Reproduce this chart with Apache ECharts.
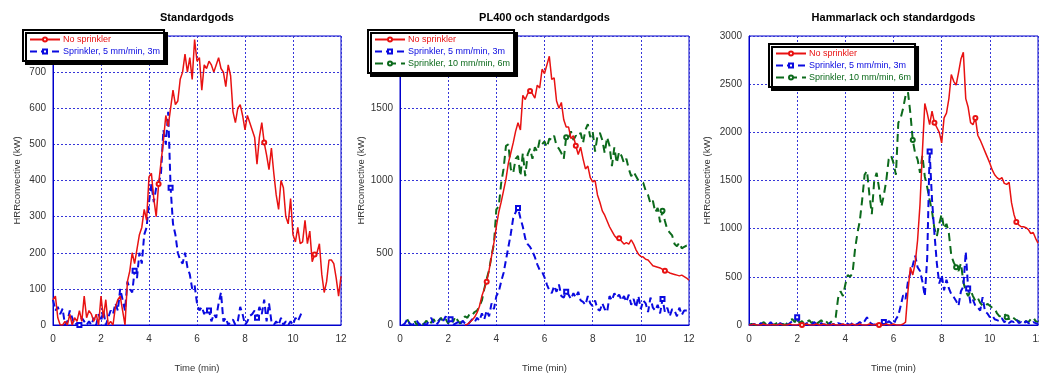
<!DOCTYPE html>
<html>
<head>
<meta charset="utf-8">
<script src="https://cdn.jsdelivr.net/npm/echarts@6/dist/echarts.min.js"></script>
<style>
  html, body { margin: 0; padding: 0; background: #fff; }
  #chart { width: 1039px; height: 373px; }
</style>
</head>
<body>
<div id="chart"></div>
<script>
// time axis (min), shared by every series
const time = [
  0, 0.1, 0.2, 0.3, 0.4, 0.5, 0.6, 0.7, 0.8, 0.9,
  1, 1.1, 1.2, 1.3, 1.4, 1.5, 1.6, 1.7, 1.8, 1.9,
  2, 2.1, 2.2, 2.3, 2.4, 2.5, 2.6, 2.7, 2.8, 2.9,
  3, 3.1, 3.2, 3.3, 3.4, 3.5, 3.6, 3.7, 3.8, 3.9,
  4, 4.1, 4.2, 4.3, 4.4, 4.5, 4.6, 4.7, 4.8, 4.9,
  5, 5.1, 5.2, 5.3, 5.4, 5.5, 5.6, 5.7, 5.8, 5.9,
  6, 6.1, 6.2, 6.3, 6.4, 6.5, 6.6, 6.7, 6.8, 6.9,
  7, 7.1, 7.2, 7.3, 7.4, 7.5, 7.6, 7.7, 7.8, 7.9,
  8, 8.1, 8.2, 8.3, 8.4, 8.5, 8.6, 8.7, 8.8, 8.9,
  9, 9.1, 9.2, 9.3, 9.4, 9.5, 9.6, 9.7, 9.8, 9.9,
  10, 10.1, 10.2, 10.3, 10.4, 10.5, 10.6, 10.7, 10.8, 10.9,
  11, 11.1, 11.2, 11.3, 11.4, 11.5, 11.6, 11.7, 11.8, 11.9,
  12
];

const titles = ['Standardgods', 'PL400 och standardgods', 'Hammarlack och standardgods'];
const seriesNames = ['No sprinkler', 'Sprinkler, 5 mm/min, 3m', 'Sprinkler, 10 mm/min, 6m'];
const xTicks = [0, 2, 4, 6, 8, 10, 12];
const yMax = [800, 2000, 3000];
const yStep = [100, 500, 500];

// --- Standardgods (kW) ---
const stdNone = [
  70, 80, 20, 0, 0, 10, 0, 30, 0, 20,
  10, 40, 10, 80, 20, 40, 30, 10, 30, 0,
  80, 20, 70, 0, 10, 0, 50, 70, 80, 40,
  0, 120, 150, 200, 170, 210, 250, 270, 320, 290,
  410, 420, 350, 300, 390, 450, 510, 580, 550, 600,
  650, 610, 620, 680, 700, 750, 700, 740, 680, 790,
  730, 740, 650, 720, 710, 730, 720, 700, 720, 740,
  710, 700, 660, 720, 690, 590, 560, 600, 610, 580,
  540, 580, 560, 540, 520, 445, 520, 560, 505, 470,
  430, 490, 420, 360, 320, 400, 380, 300, 280, 350,
  250, 230, 270, 225, 230, 290, 225, 260, 175, 195,
  200, 225, 140, 90, 120, 180, 180, 170, 130, 80,
  135
];
const stdS5 = [
  70, 40, 50, 30, 45, 0, 10, 40, 20, 0,
  5, 0, 20, 10, 0, 10, 0, 20, 0, 30,
  10, 40, 0, 20, 40, 30, 60, 40, 100, 70,
  40, 120, 100, 90, 150, 130, 200, 170, 250, 270,
  340, 390, 340, 380, 390, 420, 540, 500, 590, 380,
  280, 250, 200, 180, 170, 200, 160, 140, 100, 110,
  60, 40, 50, 30, 45, 40, 10, 30, 20, 60,
  90, 10, 20, 0, 10, 15, 0, 10, 50, 30,
  0, 10, 25, 30, 40, 20, 50, 30, 70, 10,
  60, 10, 0, 10, 0, 20, 0, 10, 0, 10,
  0, 20, 10, 25, 40, null, null, null, null, null,
  null, null, null, null, null, null, null, null, null, null,
  null
];

// --- PL400 och standardgods (kW) ---
const plNone = [
  null, null, null, null, null, null, null, null, null, null,
  null, null, null, null, null, null, null, null, null, null,
  null, null, null, null, null, null, null, 0, 5, 20,
  35, 55, 85, 130, 200, 250, 300, 380, 475, 570,
  680, 780, 850, 930, 1010, 1120, 1190, 1260, 1340, 1400,
  1350, 1590, 1560, 1600, 1620, 1600, 1570, 1660, 1640, 1770,
  1740, 1800, 1860, 1700, 1710, 1550, 1500, 1540, 1420, 1370,
  1370, 1290, 1310, 1240, 1180, 1230, 1150, 1080, 1100, 1020,
  990, 1000, 900, 850, 790, 760, 720, 680, 650, 620,
  600, 600, 580, 560, 570, 560, 590, 560, 520, 490,
  475, 470, 455, 450, 430, 410, 405, 400, 395, 385,
  375, 370, 360, 355, 350, 345, 340, 345, 335, 325,
  310
];
const plS5 = [
  null, 0, 10, 40, 10, 0, 10, 30, 0, 20,
  10, 0, 30, 50, 10, 0, 20, 50, 30, 60,
  20, 40, 0, 10, 20, 0, 30, 10, 0, 20,
  40, 20, 50, 30, 80, 40, 100, 60, 150, 110,
  200, 230, 300, 360, 450, 540, 630, 740, 780, 810,
  740, 680, 600, 560, 540, 510, 470, 420, 380, 370,
  330, 280, 240, 220, 270, 230, 280, 200, 190, 230,
  210, 180, 220, 190, 230, 170, 160, 140, 200, 150,
  130, 170, 110, 100, 150, 110, 90, 200, 170, 220,
  190, 210, 170, 200, 160, 210, 140, 180, 120, 200,
  110, 170, 150, 90, 190, 120, 100, 140, 80, 180,
  90, 120, 60, 110, 100, 60, 120, 70, 100, 100,
  100
];
const plS10 = [
  null, null, null, 40, 10, 0, 30, 0, 20, 0,
  10, 30, 0, 20, 40, 10, 30, 50, 20, 40,
  10, 50, 20, 60, 30, 10, 40, 60, 50, 80,
  70, 90, 100, 130, 170, 250, 320, 380, 480, 560,
  800, 820, 980, 1080, 1240, 1250, 1080, 1050, 1150, 1170,
  1030, 1190, 1030, 1180, 1220, 1150, 1230, 1200, 1280, 1250,
  1270, 1230, 1290, 1280, 1310, 1240, 1220, 1190, 1150, 1300,
  1290, 1340, 1280, 1310, 1300, 1330, 1260, 1350, 1390, 1300,
  1340, 1200, 1310, 1330, 1280, 1190, 1300, 1240, 1100, 1230,
  1120, 1200, 1170, 1120, 1150, 1080, 1030, 1060, 1030, 1000,
  990, 985, 930, 900, 840, 860, 780, 810, 710, 790,
  720, 660, 640, 620, 560, 545, 570, 530, 540, 550,
  535
];

// --- Hammarlack och standardgods (kW) ---
const hlNone = [
  0, 0, 10, 0, 0, 0, 10, 0, 0, 0,
  5, 0, 0, 10, 0, 0, 0, 10, 0, 0,
  0, 10, 0, 0, 10, 0, 0, 0, 10, 0,
  0, 10, 0, 0, 0, 10, 0, 0, 0, 10,
  0, 0, 0, 10, 0, 0, 10, 0, 0, 0,
  10, 0, 0, 10, 0, 0, 0, 10, 0, 0,
  10, 0, 0, 0, 10, 30, 350, 600, 520, 640,
  880, 1250, 1800, 2300, 2200, 2080, 2220, 2100, 2050, 2000,
  1890, 2150, 2200, 2350, 2600, 2530, 2490, 2620, 2760, 2830,
  2350, 2260, 2100, 2080, 2150, 1970, 1920, 1860, 1800, 1740,
  1680, 1610, 1560, 1530, 1510, 1530, 1470, 1460, 1480, 1270,
  1150, 1070, 1040, 1020, 1020, 1010, 990, 950, 960, 900,
  850
];
const hlS5 = [
  0, 0, 10, 0, 0, 20, 0, 10, 0, 30,
  0, 10, 0, 20, 0, 10, 0, 20, 40, 60,
  80, 30, 10, 0, 20, 10, 0, 30, 10, 0,
  20, 0, 10, 30, 0, 10, 0, 20, 10, 0,
  30, 10, 0, 20, 0, 10, 30, 10, 40, 80,
  30, 10, 0, 20, 10, 0, 30, 10, 40, 20,
  0, 60, 100, 200, 310, 270, 450, 540, 620, 720,
  600, 560, 450, 300, 700, 1800, 1300, 950, 640, 430,
  520, 360, 470, 380, 320, 290, 250, 200, 350, 400,
  760, 380, 220, 260, 200, 180, 150, 290, 140, 120,
  80, 100, 60, 50, 40, 70, 30, 50, 20, 40,
  30, 60, 20, 30, 10, 40, 20, 10, 30, 20,
  10
];
const hlS10 = [
  0, 10, 0, 0, 20, 0, 30, 10, 0, 20,
  0, 10, 30, 0, 10, 0, 20, 50, 60, 30,
  70, 20, 40, 10, 30, 50, 20, 40, 10, 30,
  50, 20, 40, 10, 30, 60, 80, 280, 350, 300,
  420, 520, 500, 540, 780, 950, 1080, 1300, 1560, 1600,
  1350, 1150, 1500, 1580, 1420, 1230, 1350, 1500, 1720, 1760,
  1680, 1560, 2100, 2150, 2250, 2380, 2420, 2200, 1920, 1780,
  1720, 1580, 1760, 1540, 1430, 1300, 1180, 1000, 920, 1050,
  1150, 1000, 1050, 950, 720, 650, 600, 560, 640, 450,
  350, 300, 360, 300, 250, 280, 230, 200, 190, 220,
  200, 180, 170, 120, 90, 100, 120, 80, 60, 90,
  70, 50, 40, 30, 20, 40, 30, 60, 80, 40,
  30
];

const panelData = [
  [stdNone, stdS5],
  [plNone, plS5, plS10],
  [hlNone, hlS5, hlS10]
];

// times (min) where the original plot shows a series marker
const markTimes = [
  [[4.4, 8.8, 10.9], [1.1, 3.4, 4.9, 6.5, 8.5]],
  [[3.6, 5.4, 7.3, 9.1, 11.0], [2.1, 4.9, 6.9, 10.9], [6.9, 10.9]],
  [[2.2, 5.4, 7.7, 9.4, 11.1], [2.0, 5.6, 7.5, 9.1], [6.8, 8.6, 10.7]]
];

const FONT = '"Liberation Sans", Arial, sans-serif';
const AXIS_BLUE = '#0000cc';
const GRID_BLUE = '#3535d8';
const colors = ['#e81212', '#0a0ae0', '#0c6a1c'];
const symbols = ['emptyCircle', 'emptyRect', 'emptyCircle'];
const dashes = ['solid', [7, 4], [8, 5]];
const widths = [1.5, 2, 2];

// layout of the three panels
const boxes = [
  {left: 53, top: 36, width: 288, height: 289, yGap: 31, legend: {left: 23, top: 30}},
  {left: 400, top: 36, width: 289, height: 289, yGap: 34, legend: {left: 368, top: 30}},
  {left: 749, top: 36, width: 289, height: 289, yGap: 37, legend: {left: 769, top: 44}}
];

const chart = echarts.init(document.getElementById('chart'));

const grid = [], xAxis = [], yAxis = [], series = [], legend = [], graphic = [];

boxes.forEach((b, p) => {
    grid.push({
        left: b.left, top: b.top, width: b.width, height: b.height,
        outerBoundsMode: 'none', containLabel: false,
        show: true, borderColor: AXIS_BLUE, borderWidth: 1, backgroundColor: '#fff'
    });
    xAxis.push({
        type: 'value', gridIndex: p, min: xTicks[0], max: xTicks[xTicks.length - 1], interval: 2,
        name: 'Time (min)', nameLocation: 'middle', nameGap: 38,
        nameTextStyle: {fontFamily: FONT, fontSize: 9.5, color: '#333'},
        axisLine: {lineStyle: {color: AXIS_BLUE, width: 1}},
        axisTick: {show: false},
        axisLabel: {fontFamily: FONT, fontSize: 10, color: '#333', margin: 9},
        splitLine: {show: true, lineStyle: {color: GRID_BLUE, type: [2, 2], width: 1}}
    });
    yAxis.push({
        type: 'value', gridIndex: p, min: 0, max: yMax[p], interval: yStep[p],
        name: 'HRRconvective (kW)', nameLocation: 'middle', nameGap: b.yGap,
        nameTextStyle: {fontFamily: FONT, fontSize: 9.5, color: '#333'},
        axisLine: {show: true, lineStyle: {color: AXIS_BLUE, width: 1}},
        axisTick: {show: false},
        axisLabel: {fontFamily: FONT, fontSize: 10, color: '#333', margin: 7,
                    showMaxLabel: p === 2, formatter: (v) => String(v)},
        splitLine: {show: true, lineStyle: {color: GRID_BLUE, type: [2, 2], width: 1}}
    });

    const names = [];
    panelData[p].forEach((vals, k) => {
        const pts = [];
        vals.forEach((v, i) => { if (v !== null) pts.push([time[i], v]); });
        const marks = markTimes[p][k];
        series.push({
            type: 'line', name: seriesNames[k], xAxisIndex: p, yAxisIndex: p,
            data: pts, animation: false,
            symbol: symbols[k],
            showAllSymbol: true,
            symbolSize: (v) => (marks.indexOf(Math.round(v[0] * 10) / 10) >= 0 ? 4 : 0),
            itemStyle: {color: colors[k], borderWidth: 1},
            lineStyle: {color: colors[k], width: widths[k], type: dashes[k]},
            z: 3 - k
        });
        names.push({name: seriesNames[k], textStyle: {color: colors[k]}});
    });

    legend.push({
        left: b.legend.left, top: b.legend.top, orient: 'vertical',
        data: names, itemWidth: 30, itemHeight: 5, itemGap: 3,
        padding: [5, 4, 5, 6], selectedMode: false,
        backgroundColor: '#fff', borderColor: '#000', borderWidth: 2,
        shadowColor: '#000', shadowOffsetX: 3, shadowOffsetY: 3, shadowBlur: 0,
        textStyle: {fontFamily: FONT, fontSize: 9, padding: [0, 0, 0, -2]},
        z: 10
    });

    graphic.push({
        type: 'text', x: b.left + b.width / 2, y: 18,
        style: {text: titles[p], fontFamily: FONT, fontSize: 11, fontWeight: 'bold',
                fill: '#000', textAlign: 'center', textVerticalAlign: 'middle'}
    });
});

chart.setOption({
    animation: false,
    grid, xAxis, yAxis, series, legend, graphic
});
</script>
</body>
</html>
